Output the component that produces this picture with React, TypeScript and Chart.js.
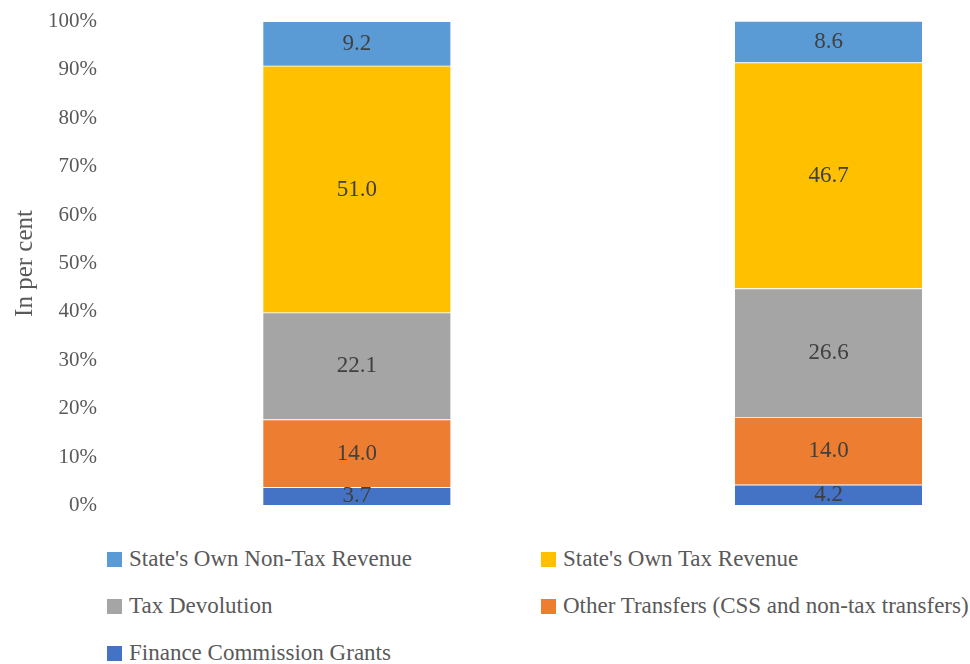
import React, { useEffect, useRef } from "react";
import { Chart, registerables } from "chart.js";

Chart.register(...registerables);

const categories = ["Period 1", "Period 2"];
const financeCommissionGrants = [3.7, 4.2];
const otherTransfers = [14.0, 14.0];
const taxDevolution = [22.1, 26.6];
const ownTaxRevenue = [51.0, 46.7];
const ownNonTaxRevenue = [9.2, 8.6];
const yTicks = [0, 10, 20, 30, 40, 50, 60, 70, 80, 90, 100];

const seriesNames = [
  "Finance Commission Grants",
  "Other Transfers (CSS and non-tax transfers)",
  "Tax Devolution",
  "State's Own Tax Revenue",
  "State's Own Non-Tax Revenue",
];
const seriesValues = [financeCommissionGrants, otherTransfers, taxDevolution, ownTaxRevenue, ownNonTaxRevenue];
const seriesColors = ["#4472C4", "#ED7D31", "#A5A5A5", "#FFC000", "#5B9BD5"];

const legendOrder = [4, 3, 2, 1, 0];

const FONT = "'Liberation Serif', 'DejaVu Serif', serif";

const labelPlugin = {
  id: "segLabels",
  afterDatasetsDraw(chart: any) {
    const { ctx, chartArea } = chart;
    ctx.save();
    ctx.beginPath();
    ctx.rect(chartArea.left, chartArea.top - 2, chartArea.right - chartArea.left, chartArea.bottom - chartArea.top + 2);
    ctx.clip();
    ctx.font = `23px ${FONT}`;
    ctx.fillStyle = "#404040";
    ctx.textAlign = "center";
    ctx.textBaseline = "middle";
    chart.data.datasets.forEach((ds: any, di: number) => {
      const meta = chart.getDatasetMeta(di);
      meta.data.forEach((el: any, i: number) => {
        const v = ds.data[i].y;
        const y = (el.y + el.base) / 2;
        ctx.fillText(v.toFixed(1), el.x, y);
      });
    });
    ctx.restore();
  },
};

export default function App() {
  const ref = useRef<HTMLCanvasElement>(null);
  useEffect(() => {
    if (!ref.current) return;
    const chart = new Chart(ref.current, {
      type: "bar",
      data: {
        datasets: seriesNames.map((name, si) => ({
          label: name,
          data: categories.map((_, ci) => ({ x: ci, y: seriesValues[si][ci] })),
          backgroundColor: seriesColors[si],
          borderColor: "#ffffff",
          borderWidth: 0.8,
          borderSkipped: false,
          barThickness: 188,
        })),
      },
      options: {
        animation: false,
        responsive: true,
        maintainAspectRatio: false,
        layout: { padding: 0 },
        plugins: { legend: { display: false }, tooltip: { enabled: false } },
        scales: {
          x: {
            type: "linear",
            stacked: true,
            offset: false,
            min: -0.5,
            max: 1.3,
            display: false,
          },
          y: {
            stacked: true,
            min: 0,
            max: 100,
            afterFit(scale: any) {
              scale.width = 121;
            },
            afterBuildTicks(scale: any) {
              scale.ticks = yTicks.map((v) => ({ value: v }));
            },
            grid: { display: false, drawTicks: false },
            border: { display: false },
            ticks: {
              padding: 24,
              color: "#595959",
              font: { family: FONT, size: 21 },
              callback: (v: any) => `${v}%`,
            },
            title: {
              display: true,
              text: "In per cent",
              color: "#595959",
              font: { family: FONT, size: 25 },
              padding: { top: 10, bottom: 0 },
            },
          },
        },
      },
      plugins: [labelPlugin],
    });
    return () => chart.destroy();
  }, []);

  const legendPos = [
    { left: 107, top: 559 },
    { left: 541, top: 559 },
    { left: 107, top: 606 },
    { left: 541, top: 606 },
    { left: 107, top: 653 },
  ];

  return (
    <div style={{ position: "absolute", left: 0, top: 0, width: 970, height: 664, background: "#fff", overflow: "hidden" }}>
      <div style={{ position: "absolute", left: 0, top: -15, width: 970, height: 557 }}>
        <canvas ref={ref} />
      </div>
      {legendOrder.map((si, k) => (
        <div
          key={si}
          style={{
            position: "absolute",
            left: legendPos[k].left,
            top: legendPos[k].top - 13,
            height: 26,
            display: "flex",
            alignItems: "center",
            whiteSpace: "nowrap",
            fontFamily: FONT,
            fontSize: 23,
            color: "#595959",
          }}
        >
          <span style={{ display: "inline-block", width: 15, height: 15, background: seriesColors[si], marginRight: 7 }} />
          <span>{seriesNames[si]}</span>
        </div>
      ))}
    </div>
  );
}
